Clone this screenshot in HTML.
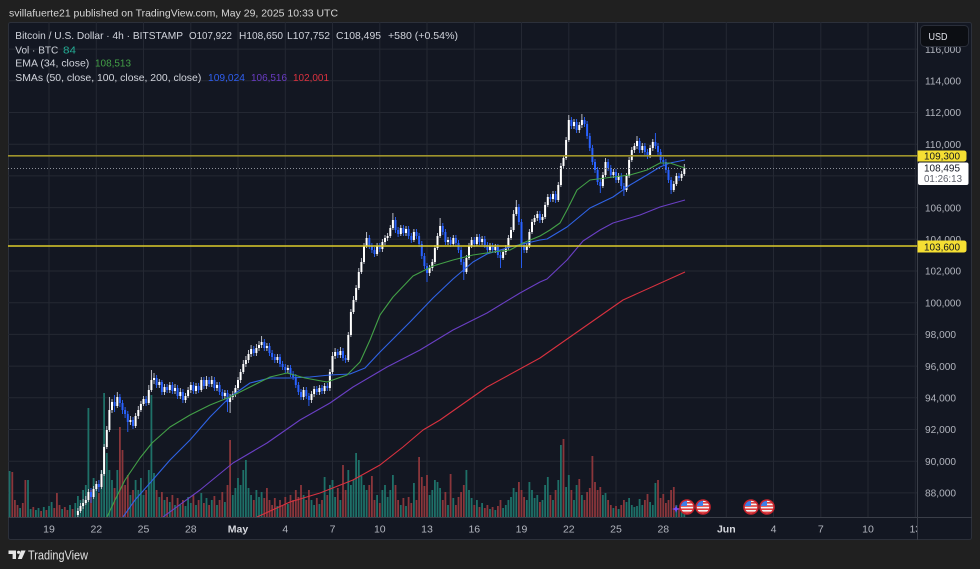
<!DOCTYPE html>
<html><head><meta charset="utf-8">
<style>
html,body{margin:0;padding:0;background:#202020;width:980px;height:569px;overflow:hidden}
svg{display:block}
text{font-family:"Liberation Sans",Arial,sans-serif}
</style></head>
<body>
<svg width="980" height="569" viewBox="0 0 980 569" xmlns="http://www.w3.org/2000/svg">
<defs>
<clipPath id="plot"><rect x="8" y="22" width="909" height="495"/></clipPath>
<clipPath id="taxis"><rect x="8" y="517" width="909" height="23"/></clipPath>
<clipPath id="fc"><circle cx="0" cy="0" r="6.5"/></clipPath>
</defs>
<rect x="0" y="0" width="980" height="569" fill="#202020"/>
<text x="9" y="16.5" font-size="10.5" fill="#d6d6d6" textLength="329" lengthAdjust="spacingAndGlyphs">svillafuerte21 published on TradingView.com, May 29, 2025 10:33 UTC</text>
<rect x="8.5" y="22.5" width="963" height="517" fill="#131722" stroke="#2c303a" stroke-width="1" rx="2"/>

<g stroke="#242833" stroke-width="1" clip-path="url(#plot)">
<line x1="8" x2="917" y1="49.1" y2="49.1"/><line x1="8" x2="917" y1="80.8" y2="80.8"/>
<line x1="8" x2="917" y1="112.5" y2="112.5"/><line x1="8" x2="917" y1="144.2" y2="144.2"/>
<line x1="8" x2="917" y1="175.9" y2="175.9"/><line x1="8" x2="917" y1="207.6" y2="207.6"/>
<line x1="8" x2="917" y1="239.3" y2="239.3"/><line x1="8" x2="917" y1="271" y2="271"/>
<line x1="8" x2="917" y1="302.7" y2="302.7"/><line x1="8" x2="917" y1="334.4" y2="334.4"/>
<line x1="8" x2="917" y1="366.1" y2="366.1"/><line x1="8" x2="917" y1="397.8" y2="397.8"/>
<line x1="8" x2="917" y1="429.5" y2="429.5"/><line x1="8" x2="917" y1="461.2" y2="461.2"/>
<line x1="8" x2="917" y1="492.9" y2="492.9"/>
<line x1="49" x2="49" y1="22" y2="517"/><line x1="96.3" x2="96.3" y1="22" y2="517"/>
<line x1="143.5" x2="143.5" y1="22" y2="517"/><line x1="190.8" x2="190.8" y1="22" y2="517"/>
<line x1="238" x2="238" y1="22" y2="517"/><line x1="285.3" x2="285.3" y1="22" y2="517"/>
<line x1="332.5" x2="332.5" y1="22" y2="517"/><line x1="379.8" x2="379.8" y1="22" y2="517"/>
<line x1="427" x2="427" y1="22" y2="517"/><line x1="474.3" x2="474.3" y1="22" y2="517"/>
<line x1="521.5" x2="521.5" y1="22" y2="517"/><line x1="568.8" x2="568.8" y1="22" y2="517"/>
<line x1="616" x2="616" y1="22" y2="517"/><line x1="663.3" x2="663.3" y1="22" y2="517"/>
<line x1="726.3" x2="726.3" y1="22" y2="517"/><line x1="773.5" x2="773.5" y1="22" y2="517"/>
<line x1="820.8" x2="820.8" y1="22" y2="517"/><line x1="868" x2="868" y1="22" y2="517"/>
<line x1="915.3" x2="915.3" y1="22" y2="517"/>
</g>

<!-- volume -->
<g clip-path="url(#plot)">
<path fill="#1e7068" d="M8.7,471h1.8V517h-1.8zM19.2,508h1.8V517h-1.8zM27.1,480h1.8V517h-1.8zM29.7,509h1.8V517h-1.8zM35,510h1.8V517h-1.8zM37.6,508h1.8V517h-1.8zM42.9,507h1.8V517h-1.8zM48.1,506h1.8V517h-1.8zM50.7,502h1.8V517h-1.8zM61.2,509h1.8V517h-1.8zM69.1,505h1.8V517h-1.8zM74.4,503h1.8V517h-1.8zM77,496h1.8V517h-1.8zM79.6,500h1.8V517h-1.8zM82.2,490h1.8V517h-1.8zM84.9,485h1.8V517h-1.8zM87.5,408h1.8V517h-1.8zM92.7,478h1.8V517h-1.8zM95.4,485h1.8V517h-1.8zM100.6,470h1.8V517h-1.8zM103.2,393h1.8V517h-1.8zM105.9,453h1.8V517h-1.8zM108.5,470h1.8V517h-1.8zM111.1,480h1.8V517h-1.8zM116.4,470h1.8V517h-1.8zM129.5,495h1.8V517h-1.8zM134.7,480h1.8V517h-1.8zM137.4,490h1.8V517h-1.8zM140,478h1.8V517h-1.8zM142.6,495h1.8V517h-1.8zM147.9,470h1.8V517h-1.8zM150.5,395h1.8V517h-1.8zM153.1,473h1.8V517h-1.8zM158.4,497h1.8V517h-1.8zM163.6,500h1.8V517h-1.8zM168.9,502h1.8V517h-1.8zM174.1,505h1.8V517h-1.8zM179.4,505h1.8V517h-1.8zM184.6,506h1.8V517h-1.8zM187.2,497h1.8V517h-1.8zM189.9,503h1.8V517h-1.8zM195.1,505h1.8V517h-1.8zM200.4,493h1.8V517h-1.8zM205.6,498h1.8V517h-1.8zM210.9,500h1.8V517h-1.8zM216.1,505h1.8V517h-1.8zM224,502h1.8V517h-1.8zM231.9,495h1.8V517h-1.8zM234.5,488h1.8V517h-1.8zM237.1,478h1.8V517h-1.8zM239.7,485h1.8V517h-1.8zM242.4,470h1.8V517h-1.8zM245,460h1.8V517h-1.8zM247.6,488h1.8V517h-1.8zM250.2,495h1.8V517h-1.8zM255.5,490h1.8V517h-1.8zM258.1,497h1.8V517h-1.8zM260.7,492h1.8V517h-1.8zM276.5,506h1.8V517h-1.8zM287,504h1.8V517h-1.8zM302.7,495h1.8V517h-1.8zM310.6,500h1.8V517h-1.8zM313.2,505h1.8V517h-1.8zM318.5,504h1.8V517h-1.8zM323.7,477h1.8V517h-1.8zM329,485h1.8V517h-1.8zM331.6,480h1.8V517h-1.8zM334.2,497h1.8V517h-1.8zM339.5,500h1.8V517h-1.8zM347.4,470h1.8V517h-1.8zM350,485h1.8V517h-1.8zM352.6,480h1.8V517h-1.8zM355.2,453h1.8V517h-1.8zM357.9,460h1.8V517h-1.8zM360.5,476h1.8V517h-1.8zM363.1,485h1.8V517h-1.8zM365.7,490h1.8V517h-1.8zM376.2,495h1.8V517h-1.8zM381.5,490h1.8V517h-1.8zM384.1,485h1.8V517h-1.8zM386.7,497h1.8V517h-1.8zM389.4,490h1.8V517h-1.8zM392,475h1.8V517h-1.8zM399.9,505h1.8V517h-1.8zM405.1,506h1.8V517h-1.8zM413,483h1.8V517h-1.8zM428.7,495h1.8V517h-1.8zM431.4,490h1.8V517h-1.8zM434,480h1.8V517h-1.8zM436.6,482h1.8V517h-1.8zM439.2,488h1.8V517h-1.8zM447.1,505h1.8V517h-1.8zM452.4,498h1.8V517h-1.8zM465.5,470h1.8V517h-1.8zM468.1,490h1.8V517h-1.8zM470.7,498h1.8V517h-1.8zM476,500h1.8V517h-1.8zM481.2,503h1.8V517h-1.8zM489.1,509h1.8V517h-1.8zM494.4,510h1.8V517h-1.8zM502.2,508h1.8V517h-1.8zM504.9,505h1.8V517h-1.8zM507.5,500h1.8V517h-1.8zM510.1,497h1.8V517h-1.8zM512.7,488h1.8V517h-1.8zM515.4,492h1.8V517h-1.8zM525.9,500h1.8V517h-1.8zM528.5,482h1.8V517h-1.8zM531.1,490h1.8V517h-1.8zM533.7,498h1.8V517h-1.8zM536.4,495h1.8V517h-1.8zM541.6,500h1.8V517h-1.8zM544.2,485h1.8V517h-1.8zM546.9,477h1.8V517h-1.8zM552.1,500h1.8V517h-1.8zM557.4,480h1.8V517h-1.8zM560,445h1.8V517h-1.8zM565.2,487h1.8V517h-1.8zM567.9,475h1.8V517h-1.8zM573.1,500h1.8V517h-1.8zM575.7,485h1.8V517h-1.8zM581,495h1.8V517h-1.8zM602,495h1.8V517h-1.8zM604.6,493h1.8V517h-1.8zM612.5,508h1.8V517h-1.8zM617.7,509h1.8V517h-1.8zM625.6,502h1.8V517h-1.8zM628.2,498h1.8V517h-1.8zM630.9,505h1.8V517h-1.8zM633.5,507h1.8V517h-1.8zM636.1,506h1.8V517h-1.8zM638.7,499h1.8V517h-1.8zM641.4,505h1.8V517h-1.8zM649.2,502h1.8V517h-1.8zM651.9,505h1.8V517h-1.8zM654.5,483h1.8V517h-1.8zM675.5,505h1.8V517h-1.8zM680.7,510h1.8V517h-1.8zM683.4,514h1.8V517h-1.8z"/>
<path fill="#8a363b" d="M11.4,472h1.8V517h-1.8zM14,500h1.8V517h-1.8zM16.6,505h1.8V517h-1.8zM21.9,503h1.8V517h-1.8zM24.5,480h1.8V517h-1.8zM32.4,507h1.8V517h-1.8zM40.2,511h1.8V517h-1.8zM45.5,510h1.8V517h-1.8zM53.4,508h1.8V517h-1.8zM56,493h1.8V517h-1.8zM58.6,505h1.8V517h-1.8zM63.9,507h1.8V517h-1.8zM66.5,510h1.8V517h-1.8zM71.7,509h1.8V517h-1.8zM90.1,490h1.8V517h-1.8zM98,493h1.8V517h-1.8zM113.7,488h1.8V517h-1.8zM119,427h1.8V517h-1.8zM121.6,450h1.8V517h-1.8zM124.2,485h1.8V517h-1.8zM126.9,475h1.8V517h-1.8zM132.1,490h1.8V517h-1.8zM145.2,490h1.8V517h-1.8zM155.7,490h1.8V517h-1.8zM161,492h1.8V517h-1.8zM166.2,497h1.8V517h-1.8zM171.5,495h1.8V517h-1.8zM176.7,498h1.8V517h-1.8zM182,500h1.8V517h-1.8zM192.5,495h1.8V517h-1.8zM197.7,500h1.8V517h-1.8zM203,503h1.8V517h-1.8zM208.2,505h1.8V517h-1.8zM213.5,496h1.8V517h-1.8zM218.7,500h1.8V517h-1.8zM221.4,492h1.8V517h-1.8zM226.6,485h1.8V517h-1.8zM229.2,440h1.8V517h-1.8zM252.9,500h1.8V517h-1.8zM263.4,498h1.8V517h-1.8zM266,488h1.8V517h-1.8zM268.6,500h1.8V517h-1.8zM271.2,505h1.8V517h-1.8zM273.9,498h1.8V517h-1.8zM279.1,500h1.8V517h-1.8zM281.7,505h1.8V517h-1.8zM284.4,497h1.8V517h-1.8zM289.6,495h1.8V517h-1.8zM292.2,500h1.8V517h-1.8zM294.9,490h1.8V517h-1.8zM297.5,497h1.8V517h-1.8zM300.1,485h1.8V517h-1.8zM305.4,500h1.8V517h-1.8zM308,490h1.8V517h-1.8zM315.9,498h1.8V517h-1.8zM321.1,500h1.8V517h-1.8zM326.4,495h1.8V517h-1.8zM336.9,488h1.8V517h-1.8zM342.1,465h1.8V517h-1.8zM344.7,490h1.8V517h-1.8zM368.4,485h1.8V517h-1.8zM371,476h1.8V517h-1.8zM373.6,500h1.8V517h-1.8zM378.9,503h1.8V517h-1.8zM394.6,485h1.8V517h-1.8zM397.2,500h1.8V517h-1.8zM402.5,498h1.8V517h-1.8zM407.7,497h1.8V517h-1.8zM410.4,503h1.8V517h-1.8zM415.6,500h1.8V517h-1.8zM418.2,457h1.8V517h-1.8zM420.9,477h1.8V517h-1.8zM423.5,486h1.8V517h-1.8zM426.1,475h1.8V517h-1.8zM441.9,500h1.8V517h-1.8zM444.5,492h1.8V517h-1.8zM449.7,474h1.8V517h-1.8zM455,505h1.8V517h-1.8zM457.6,497h1.8V517h-1.8zM460.2,492h1.8V517h-1.8zM462.9,485h1.8V517h-1.8zM473.4,505h1.8V517h-1.8zM478.6,507h1.8V517h-1.8zM483.9,508h1.8V517h-1.8zM486.5,505h1.8V517h-1.8zM491.7,507h1.8V517h-1.8zM497,506h1.8V517h-1.8zM499.6,500h1.8V517h-1.8zM518,482h1.8V517h-1.8zM520.6,490h1.8V517h-1.8zM523.2,497h1.8V517h-1.8zM539,502h1.8V517h-1.8zM549.5,495h1.8V517h-1.8zM554.7,490h1.8V517h-1.8zM562.6,439h1.8V517h-1.8zM570.5,490h1.8V517h-1.8zM578.4,479h1.8V517h-1.8zM583.6,500h1.8V517h-1.8zM586.2,492h1.8V517h-1.8zM588.9,488h1.8V517h-1.8zM591.5,456h1.8V517h-1.8zM594.1,482h1.8V517h-1.8zM596.7,490h1.8V517h-1.8zM599.4,487h1.8V517h-1.8zM607.2,500h1.8V517h-1.8zM609.9,505h1.8V517h-1.8zM615.1,506h1.8V517h-1.8zM620.4,505h1.8V517h-1.8zM623,500h1.8V517h-1.8zM644,500h1.8V517h-1.8zM646.6,494h1.8V517h-1.8zM657.1,480h1.8V517h-1.8zM659.7,498h1.8V517h-1.8zM662.4,494h1.8V517h-1.8zM665,503h1.8V517h-1.8zM667.6,500h1.8V517h-1.8zM670.2,490h1.8V517h-1.8zM672.9,487h1.8V517h-1.8zM678.1,508h1.8V517h-1.8z"/>
</g>

<!-- candles -->
<g clip-path="url(#plot)">
<path fill="none" stroke="#c9ccd4" stroke-width="0.9" d="M77.9,508V518M80.5,503V513M83.1,499V509M85.8,496V505M88.4,489V502M93.6,486V499M96.3,481V491M101.5,470V489M104.1,444V476M106.8,426V449M109.4,397V432M112,399V413M117.3,392V408M130.4,416V425M135.6,413V428M138.3,406V419M140.9,401V412M143.5,396V406M148.8,385V405M151.4,370V392M154,373V384M159.3,379V388M164.5,384V395M169.8,382V393M175,384V394M180.3,388V399M185.5,393V403M188.1,387V398M190.8,382V393M196,383V394M201.3,377V392M206.5,376V389M211.8,376V387M217,382V391M224.9,390V399M230.1,394V413M232.8,391V400M235.4,385V397M238,377V390M240.6,369V383M243.3,360V374M245.9,356V367M248.5,350V363M251.1,345V357M256.4,344V356M259,341V351M261.6,336V348M266.9,343V351M277.4,354V363M287.9,365V373M303.6,387V400M311.5,391V403M314.1,386V397M319.4,385V395M324.6,383V394M329.9,369V391M332.5,352V374M335.1,348V359M340.4,347V358M348.3,332V362M350.9,309V337M353.5,296V314M356.1,285V302M358.8,268V290M361.4,258V274M364,243V264M366.6,232V248M377.1,243V256M382.4,239V252M385,235V245M387.6,233V241M390.3,225V238M392.9,213V230M400.8,225V236M406,226V236M413.9,229V242M429.6,265V276M432.3,259V271M434.9,245V264M437.5,233V250M440.1,218V238M448,237V245M453.3,235V246M466.4,255V274M469,243V260M471.6,237V248M476.9,234V246M482.1,236V245M490,243V252M495.3,244V253M503.1,249V260M505.8,245V255M508.4,235V250M511,227V240M513.6,210V232M516.3,200V216M526.8,243V253M529.4,229V248M532,219V234M534.6,215V225M537.3,211V221M542.5,214V223M545.1,202V219M547.8,194V207M553,191V202M558.3,182V202M560.9,163V187M563.5,155V168M566.1,137V160M568.8,115V142M574,119V129M579.3,122V133M581.9,114V128M602.9,172V188M605.5,158V177M613.4,169V178M618.6,173V183M626.5,173V192M629.1,157V178M631.8,147V162M634.4,143V153M637,136V149M642.3,143V153M650.1,145V158M652.8,139V151M673.8,181V192M676.4,173V186M681.6,171V181M684.3,164V176"/>
<path fill="none" stroke="#2962ff" stroke-width="0.9" d="M91,488V503M98.9,480V492M114.6,395V412M119.9,394V407M122.5,400V414M125.1,407V418M127.8,411V432M133,417V429M146.1,396V406M156.6,375V388M161.9,380V395M167.1,384V393M172.4,382V394M177.6,385V399M182.9,389V403M193.4,382V394M198.6,383V393M203.9,377V389M209.1,377V387M214.4,377V391M219.6,382V395M222.3,389V399M227.5,390V412M253.8,346V356M264.3,339V351M269.5,343V356M272.1,350V360M274.8,354V363M280,354V367M282.6,361V370M285.3,364V373M290.5,365V377M293.1,371V380M295.8,374V388M298.4,382V395M301,389V400M306.3,387V399M308.9,393V406M316.8,386V395M322,385V394M327.3,383V391M337.8,349V358M343,348V361M345.6,355V363M369.3,235V249M371.9,243V253M374.5,247V257M379.8,243V252M395.5,217V233M398.1,227V237M403.4,225V236M408.6,226V239M411.3,233V243M416.5,229V239M419.1,233V247M421.8,241V259M424.4,253V269M427,263V282M442.8,223V235M445.4,229V245M450.6,237V247M455.9,235V246M458.5,240V253M461.1,247V265M463.8,259V280M474.3,237V247M479.5,234V245M484.8,236V248M487.4,242V253M492.6,243V253M497.9,244V258M500.5,252V268M518.9,204V225M521.5,219V268M524.1,242V253M539.9,211V223M550.4,194V202M555.6,191V203M571.4,117V129M576.6,119V133M584.5,117V127M587.1,121V139M589.8,133V151M592.4,145V165M595,159V173M597.6,167V185M600.3,179V193M608.1,159V171M610.8,165V178M616,169V183M621.3,173V189M623.9,183V196M639.6,138V153M644.9,143V155M647.5,149V159M655.4,133V149M658,143V155M660.6,149V163M663.3,157V165M665.9,159V173M668.5,167V183M671.1,177V194M679,173V181"/>
<path fill="#ffffff" d="M76.9,511h2V515h-2zM79.5,506h2V511h-2zM82.1,503h2V506h-2zM84.8,500h2V503h-2zM87.4,492h2V500h-2zM92.6,489h2V497h-2zM95.3,484h2V489h-2zM100.5,474h2V487h-2zM103.1,447h2V474h-2zM105.8,430h2V447h-2zM108.4,410h2V430h-2zM111,402h2V410h-2zM116.3,397h2V406h-2zM129.4,420h2V422h-2zM134.6,416h2V426h-2zM137.3,410h2V416h-2zM139.9,404h2V410h-2zM142.5,399h2V404h-2zM147.8,390h2V403h-2zM150.4,380h2V390h-2zM153,378h2V380h-2zM158.3,382h2V385h-2zM163.5,387h2V392h-2zM168.8,385h2V390h-2zM174,388h2V391h-2zM179.3,392h2V396h-2zM184.5,396h2V400h-2zM187.1,390h2V396h-2zM189.8,385h2V390h-2zM195,386h2V391h-2zM200.3,380h2V390h-2zM205.5,380h2V386h-2zM210.8,380h2V384h-2zM216,385h2V388h-2zM223.9,393h2V396h-2zM229.1,397h2V402h-2zM231.8,394h2V397h-2zM234.4,388h2V394h-2zM237,380h2V388h-2zM239.6,372h2V380h-2zM242.3,364h2V372h-2zM244.9,360h2V364h-2zM247.5,354h2V360h-2zM250.1,349h2V354h-2zM255.4,348h2V353h-2zM258,345h2V348h-2zM260.6,342h2V345h-2zM265.9,346h2V348h-2zM276.4,357h2V360h-2zM286.9,368h2V370h-2zM302.6,390h2V397h-2zM310.5,394h2V400h-2zM313.1,389h2V394h-2zM318.4,388h2V392h-2zM323.6,386h2V391h-2zM328.9,372h2V388h-2zM331.5,356h2V372h-2zM334.1,352h2V356h-2zM339.4,351h2V355h-2zM347.3,335h2V360h-2zM349.9,312h2V335h-2zM352.5,300h2V312h-2zM355.1,288h2V300h-2zM357.8,272h2V288h-2zM360.4,262h2V272h-2zM363,246h2V262h-2zM365.6,238h2V246h-2zM376.1,246h2V254h-2zM381.4,242h2V249h-2zM384,238h2V242h-2zM386.6,236h2V238h-2zM389.3,228h2V236h-2zM391.9,220h2V228h-2zM399.8,228h2V234h-2zM405,229h2V233h-2zM412.9,232h2V240h-2zM428.6,268h2V273h-2zM431.3,262h2V268h-2zM433.9,248h2V262h-2zM436.5,236h2V248h-2zM439.1,226h2V236h-2zM447,240h2V242h-2zM452.3,238h2V244h-2zM465.4,258h2V272h-2zM468,246h2V258h-2zM470.6,240h2V246h-2zM475.9,237h2V244h-2zM481.1,239h2V242h-2zM489,246h2V250h-2zM494.3,247h2V250h-2zM502.1,252h2V258h-2zM504.8,248h2V252h-2zM507.4,238h2V248h-2zM510,230h2V238h-2zM512.6,214h2V230h-2zM515.3,207h2V214h-2zM525.8,246h2V250h-2zM528.4,232h2V246h-2zM531,222h2V232h-2zM533.6,218h2V222h-2zM536.3,214h2V218h-2zM541.5,217h2V220h-2zM544.1,205h2V217h-2zM546.8,197h2V205h-2zM552,194h2V199h-2zM557.3,185h2V200h-2zM559.9,166h2V185h-2zM562.5,158h2V166h-2zM565.1,140h2V158h-2zM567.8,120h2V140h-2zM573,122h2V126h-2zM578.3,125h2V130h-2zM580.9,120h2V125h-2zM601.9,175h2V186h-2zM604.5,162h2V175h-2zM612.4,172h2V175h-2zM617.6,176h2V180h-2zM625.5,176h2V190h-2zM628.1,160h2V176h-2zM630.8,150h2V160h-2zM633.4,146h2V150h-2zM636,141h2V146h-2zM641.3,146h2V150h-2zM649.1,148h2V156h-2zM651.8,142h2V148h-2zM672.8,184h2V190h-2zM675.4,176h2V184h-2zM680.6,174h2V178h-2zM683.3,168h2V174h-2z"/>
<path fill="#2962ff" d="M90,492h2V497h-2zM97.9,484h2V487h-2zM113.6,402h2V406h-2zM118.9,397h2V403h-2zM121.5,403h2V410h-2zM124.1,410h2V414h-2zM126.8,414h2V422h-2zM132,420h2V426h-2zM145.1,399h2V403h-2zM155.6,378h2V385h-2zM160.9,382h2V392h-2zM166.1,387h2V390h-2zM171.4,385h2V391h-2zM176.6,388h2V396h-2zM181.9,392h2V400h-2zM192.4,385h2V391h-2zM197.6,386h2V390h-2zM202.9,380h2V386h-2zM208.1,380h2V384h-2zM213.4,380h2V388h-2zM218.6,385h2V392h-2zM221.3,392h2V396h-2zM226.5,393h2V402h-2zM252.8,349h2V353h-2zM263.3,342h2V348h-2zM268.5,346h2V353h-2zM271.1,353h2V357h-2zM273.8,357h2V360h-2zM279,357h2V364h-2zM281.6,364h2V367h-2zM284.3,367h2V370h-2zM289.5,368h2V374h-2zM292.1,374h2V377h-2zM294.8,377h2V385h-2zM297.4,385h2V392h-2zM300,392h2V397h-2zM305.3,390h2V396h-2zM307.9,396h2V400h-2zM315.8,389h2V392h-2zM321,388h2V391h-2zM326.3,386h2V388h-2zM336.8,352h2V355h-2zM342,351h2V358h-2zM344.6,358h2V360h-2zM368.3,238h2V246h-2zM370.9,246h2V250h-2zM373.5,250h2V254h-2zM378.8,246h2V249h-2zM394.5,220h2V230h-2zM397.1,230h2V234h-2zM402.4,228h2V233h-2zM407.6,229h2V236h-2zM410.3,236h2V240h-2zM415.5,232h2V236h-2zM418.1,236h2V244h-2zM420.8,244h2V256h-2zM423.4,256h2V266h-2zM426,266h2V273h-2zM441.8,226h2V232h-2zM444.4,232h2V242h-2zM449.6,240h2V244h-2zM454.9,238h2V243h-2zM457.5,243h2V250h-2zM460.1,250h2V262h-2zM462.8,262h2V272h-2zM473.3,240h2V244h-2zM478.5,237h2V242h-2zM483.8,239h2V245h-2zM486.4,245h2V250h-2zM491.6,246h2V250h-2zM496.9,247h2V255h-2zM499.5,255h2V258h-2zM517.9,207h2V222h-2zM520.5,222h2V245h-2zM523.1,245h2V250h-2zM538.9,214h2V220h-2zM549.4,197h2V199h-2zM554.6,194h2V200h-2zM570.4,120h2V126h-2zM575.6,122h2V130h-2zM583.5,120h2V124h-2zM586.1,124h2V136h-2zM588.8,136h2V148h-2zM591.4,148h2V162h-2zM594,162h2V170h-2zM596.6,170h2V182h-2zM599.3,182h2V186h-2zM607.1,162h2V168h-2zM609.8,168h2V175h-2zM615,172h2V180h-2zM620.3,176h2V186h-2zM622.9,186h2V190h-2zM638.6,141h2V150h-2zM643.9,146h2V152h-2zM646.5,152h2V156h-2zM654.4,142h2V146h-2zM657,146h2V152h-2zM659.6,152h2V160h-2zM662.3,160h2V162h-2zM664.9,162h2V170h-2zM667.5,170h2V180h-2zM670.1,180h2V190h-2zM678,176h2V178h-2z"/>
</g>

<!-- moving averages -->
<g fill="none" stroke-width="1.1" clip-path="url(#plot)" stroke-linejoin="round">
<polyline stroke="#d8313f" points="257,517 290,502 320,493 353,480 380,465 403,447 423,430 440,420 487,387 540,358 580,330 623,300 685,272"/>
<polyline stroke="#6a3fc4" points="163,517 200,490 233,463 267,443 300,420 330,403 353,387 387,367 420,350 453,330 487,313 520,293 540,282 547,279 567,260 583,241 600,230 613,223 640,215 660,207 685,200"/>
<polyline stroke="#2f63e6" points="123,517 135,500 150,483 170,460 190,440 210,417 230,397 250,383 270,378 290,378 310,377 330,375 350,374 365,368 380,352 395,337 410,322 433,298 453,279 473,262 487,254 510,247 540,240 547,239 567,227 590,208 613,197 630,185 647,175 660,167 670,163 685,160"/>
<polyline stroke="#43a047" points="107,517 115,500 125,480 140,458 152,443 170,427 190,415 210,405 230,397 250,387 270,377 287,373 305,378 327,382 347,375 360,362 370,340 380,315 393,297 413,276 433,266 453,260 473,255 493,252 510,250 523,243 540,236 550,230 560,223 567,210 577,190 590,180 613,177 630,175 647,170 660,163 670,163 685,168"/>
</g>

<line x1="8" x2="917" y1="168.5" y2="168.5" stroke="#8d9099" stroke-width="1" stroke-dasharray="1 2"/>
<line x1="8" x2="917" y1="155.8" y2="155.8" stroke="#9f942c" stroke-width="1.6"/>
<line x1="8" x2="917" y1="246" y2="246" stroke="#dccb2a" stroke-width="1.4"/>

<!-- flags -->
<g transform="translate(687,507)"><g clip-path="url(#fc)"><rect x="-7" y="-7" width="14" height="14" fill="#f2f2f2"/><rect x="-7" y="-5" width="14" height="1.6" fill="#e04040"/><rect x="-7" y="-1.8" width="14" height="1.6" fill="#e04040"/><rect x="-7" y="1.4" width="14" height="1.6" fill="#e04040"/><rect x="-7" y="4.6" width="14" height="1.6" fill="#e04040"/><rect x="-7" y="-7" width="7" height="6" fill="#3d7ee8"/></g><circle r="7" fill="none" stroke="#c8232c" stroke-width="1.6"/></g>
<g transform="translate(703,507)"><g clip-path="url(#fc)"><rect x="-7" y="-7" width="14" height="14" fill="#f2f2f2"/><rect x="-7" y="-5" width="14" height="1.6" fill="#e04040"/><rect x="-7" y="-1.8" width="14" height="1.6" fill="#e04040"/><rect x="-7" y="1.4" width="14" height="1.6" fill="#e04040"/><rect x="-7" y="4.6" width="14" height="1.6" fill="#e04040"/><rect x="-7" y="-7" width="7" height="6" fill="#3d7ee8"/></g><circle r="7" fill="none" stroke="#c8232c" stroke-width="1.6"/></g>
<g transform="translate(751,507)"><g clip-path="url(#fc)"><rect x="-7" y="-7" width="14" height="14" fill="#f2f2f2"/><rect x="-7" y="-5" width="14" height="1.6" fill="#e04040"/><rect x="-7" y="-1.8" width="14" height="1.6" fill="#e04040"/><rect x="-7" y="1.4" width="14" height="1.6" fill="#e04040"/><rect x="-7" y="4.6" width="14" height="1.6" fill="#e04040"/><rect x="-7" y="-7" width="7" height="6" fill="#3d7ee8"/></g><circle r="7" fill="none" stroke="#c8232c" stroke-width="1.6"/></g>
<g transform="translate(767,507)"><g clip-path="url(#fc)"><rect x="-7" y="-7" width="14" height="14" fill="#f2f2f2"/><rect x="-7" y="-5" width="14" height="1.6" fill="#e04040"/><rect x="-7" y="-1.8" width="14" height="1.6" fill="#e04040"/><rect x="-7" y="1.4" width="14" height="1.6" fill="#e04040"/><rect x="-7" y="4.6" width="14" height="1.6" fill="#e04040"/><rect x="-7" y="-7" width="7" height="6" fill="#3d7ee8"/></g><circle r="7" fill="none" stroke="#c8232c" stroke-width="1.6"/></g>
<path d="M676,505 L677,508 L680,509 L677,510 L676,513 L675,510 L672,509 L675,508 Z" fill="#7b4dff"/>

<!-- axes separators -->
<line x1="917.5" x2="917.5" y1="22" y2="540" stroke="#3a3e48" stroke-width="1"/>
<line x1="8" x2="972" y1="517.5" y2="517.5" stroke="#3a3e48" stroke-width="1"/>

<!-- legend -->
<g font-size="10.5" fill="#d1d4dc">
<text x="15.3" y="39" textLength="167.7" lengthAdjust="spacingAndGlyphs">Bitcoin / U.S. Dollar · 4h · BITSTAMP</text>
<text x="189" y="39" textLength="43" lengthAdjust="spacingAndGlyphs">O107,922</text>
<text x="239" y="39" textLength="44" lengthAdjust="spacingAndGlyphs">H108,650</text>
<text x="287" y="39" textLength="43" lengthAdjust="spacingAndGlyphs">L107,752</text>
<text x="336" y="39" textLength="45" lengthAdjust="spacingAndGlyphs">C108,495</text>
<text x="388" y="39" textLength="70" lengthAdjust="spacingAndGlyphs">+580 (+0.54%)</text>
<text x="15.3" y="53.3" textLength="43" lengthAdjust="spacingAndGlyphs">Vol · BTC</text>
<text x="63" y="53.3" textLength="13" lengthAdjust="spacingAndGlyphs" fill="#22ab94">84</text>
<text x="15.3" y="66.5" textLength="74" lengthAdjust="spacingAndGlyphs">EMA (34, close)</text>
<text x="95" y="66.5" textLength="36" lengthAdjust="spacingAndGlyphs" fill="#43a047">108,513</text>
<text x="15.3" y="81" textLength="186" lengthAdjust="spacingAndGlyphs">SMAs (50, close, 100, close, 200, close)</text>
<text x="208" y="81" textLength="37" lengthAdjust="spacingAndGlyphs" fill="#2f5ff0">109,024</text>
<text x="251" y="81" textLength="36" lengthAdjust="spacingAndGlyphs" fill="#6a3cc4">106,516</text>
<text x="293" y="81" textLength="36" lengthAdjust="spacingAndGlyphs" fill="#dc323f">102,001</text>
</g>

<!-- price axis labels -->
<g font-size="10.5" fill="#b2b5be">
<text x="925" y="52.8" textLength="36" lengthAdjust="spacingAndGlyphs">116,000</text>
<text x="925" y="84.5" textLength="36" lengthAdjust="spacingAndGlyphs">114,000</text>
<text x="925" y="116.2" textLength="36" lengthAdjust="spacingAndGlyphs">112,000</text>
<text x="925" y="147.9" textLength="36" lengthAdjust="spacingAndGlyphs">110,000</text>
<text x="925" y="211.3" textLength="36" lengthAdjust="spacingAndGlyphs">106,000</text>
<text x="925" y="243" textLength="36" lengthAdjust="spacingAndGlyphs">104,000</text>
<text x="925" y="274.7" textLength="36" lengthAdjust="spacingAndGlyphs">102,000</text>
<text x="925" y="306.4" textLength="36" lengthAdjust="spacingAndGlyphs">100,000</text>
<text x="925" y="338.1" textLength="31" lengthAdjust="spacingAndGlyphs">98,000</text>
<text x="925" y="369.8" textLength="31" lengthAdjust="spacingAndGlyphs">96,000</text>
<text x="925" y="401.5" textLength="31" lengthAdjust="spacingAndGlyphs">94,000</text>
<text x="925" y="433.2" textLength="31" lengthAdjust="spacingAndGlyphs">92,000</text>
<text x="925" y="464.9" textLength="31" lengthAdjust="spacingAndGlyphs">90,000</text>
<text x="925" y="496.6" textLength="31" lengthAdjust="spacingAndGlyphs">88,000</text>
</g>

<!-- USD button -->
<rect x="920.5" y="25.5" width="48" height="21" rx="4" fill="#0c0e13" stroke="#2a2e39"/>
<text x="928.5" y="39.8" font-size="10.5" fill="#e1e3ea" textLength="19" lengthAdjust="spacingAndGlyphs">USD</text>

<!-- price tags -->
<path d="M917.5,150.5 H964 a2.5,2.5 0 0 1 2.5,2.5 V159 a2.5,2.5 0 0 1 -2.5,2.5 H917.5 Z" fill="#f5df33"/>
<text x="924" y="159.6" font-size="10.5" fill="#131722" textLength="36" lengthAdjust="spacingAndGlyphs">109,300</text>
<rect x="918" y="162.5" width="50.5" height="22.5" rx="2" fill="#ffffff"/>
<text x="924" y="171.6" font-size="10.5" fill="#131722" textLength="36" lengthAdjust="spacingAndGlyphs">108,495</text>
<text x="924" y="182.2" font-size="10.5" fill="#5d606b" textLength="38" lengthAdjust="spacingAndGlyphs">01:26:13</text>
<path d="M917.5,240.5 H964 a2.5,2.5 0 0 1 2.5,2.5 V250 a2.5,2.5 0 0 1 -2.5,2.5 H917.5 Z" fill="#f5df33"/>
<text x="924" y="250.3" font-size="10.5" fill="#131722" textLength="36" lengthAdjust="spacingAndGlyphs">103,600</text>

<!-- time axis labels -->
<g font-size="10.5" fill="#b2b5be" text-anchor="middle" clip-path="url(#taxis)">
<text x="49" y="532.5">19</text><text x="96.3" y="532.5">22</text>
<text x="143.5" y="532.5">25</text><text x="190.8" y="532.5">28</text>
<text x="238" y="532.5" fill="#d6d8de" font-weight="bold">May</text><text x="285.3" y="532.5">4</text>
<text x="332.5" y="532.5">7</text><text x="379.8" y="532.5">10</text>
<text x="427" y="532.5">13</text><text x="474.3" y="532.5">16</text>
<text x="521.5" y="532.5">19</text><text x="568.8" y="532.5">22</text>
<text x="616" y="532.5">25</text><text x="663.3" y="532.5">28</text>
<text x="726.3" y="532.5" fill="#d6d8de" font-weight="bold">Jun</text><text x="773.5" y="532.5">4</text>
<text x="820.8" y="532.5">7</text><text x="868" y="532.5">10</text>
<text x="915.3" y="532.5">13</text>
</g>

<!-- TradingView logo -->
<g fill="#e6e6e6">
<path d="M8.5,550.5 H16 V559 H12.6 V554 H8.5 Z"/>
<circle cx="18.6" cy="552.3" r="1.6"/>
<path d="M21,550.5 H25.6 L21.8,559 H17.8 Z"/>
</g>
<text x="28" y="559.5" font-size="12.5" fill="#e0e0e0" textLength="60" lengthAdjust="spacingAndGlyphs">TradingView</text>
</svg>
</body></html>
